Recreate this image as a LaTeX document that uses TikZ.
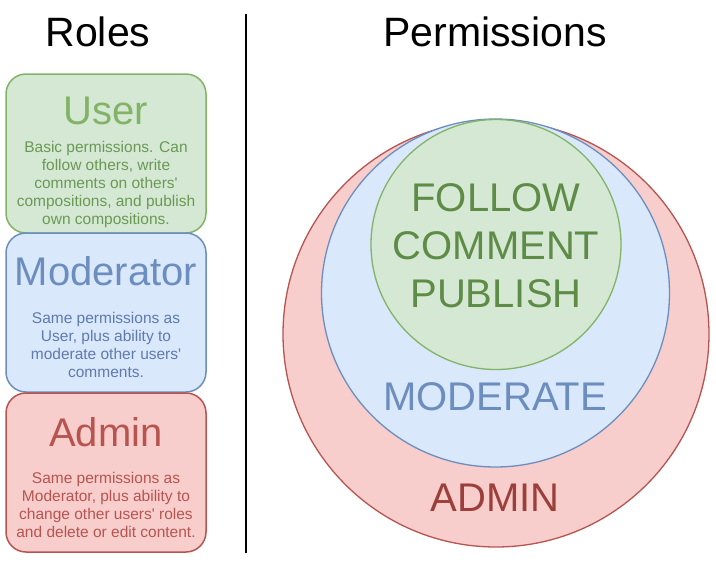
\documentclass[tikz,border=0pt]{standalone}
\usepackage{fontspec}
\setmainfont{Liberation Sans}[Ligatures=TeXOff]
\definecolor{gfill}{HTML}{D5E8D4}
\definecolor{gline}{HTML}{82B366}
\definecolor{bfill}{HTML}{DAE8FC}
\definecolor{bline}{HTML}{6C8EBF}
\definecolor{rfill}{HTML}{F8CECC}
\definecolor{rline}{HTML}{B85450}
\definecolor{gtext}{HTML}{5E8C47}
\definecolor{gbody}{HTML}{6A9955}
\definecolor{bbody}{HTML}{5E7BAE}
\definecolor{rtext}{HTML}{9C3F3B}
\definecolor{rbody}{HTML}{B85450}
\begin{document}
\begin{tikzpicture}[x=1pt,y=-1pt,
  rolebox/.style={draw, line width=1.5pt, rounded corners=20pt, minimum width=200pt, minimum height=159pt, inner sep=0pt},
  bigtext/.style={font=\fontsize{40}{48}\selectfont, align=center, inner sep=0pt},
  bodytext/.style={font=\fontsize{15.5}{18}\selectfont, align=center, inner sep=0pt},
  titletext/.style={font=\fontsize{41}{48}\selectfont, inner sep=0pt},
  permcircle/.style={circle, draw, line width=1.3pt, inner sep=0pt}]
\useasboundingbox (0,0) rectangle (716,562);
% titles
\node[titletext] (roles) at (98,32) {Roles};
\node[titletext] (perms) at (495,32) {Permissions};
% divider
\coordinate (dtop) at (245.5,14);
\coordinate (dbot) at (245.5,553);
\draw[line width=2pt] (dtop) -- (dbot);
% role boxes
\node[rolebox, fill=gfill, draw=gline] (user) at (106,153.5) {};
\node[rolebox, fill=bfill, draw=bline] (mod) at (106,312.5) {};
\node[rolebox, fill=rfill, draw=rline] (adm) at (106,472.5) {};
\node[bigtext, text=gline] (usert) at (106,111) {User};
\node[bodytext, text=gbody] (userb) at (106,184) {Basic permissions. Can\\follow others, write\\comments on others'\\compositions, and publish\\own compositions.};
\node[bigtext, text=bline] (modt) at (106,271) {Moderator};
\node[bodytext, text=bbody] (modb) at (106,345) {Same permissions as\\User, plus ability to\\moderate other users'\\comments.};
\node[bigtext, text=rline] (admt) at (106,432) {Admin};
\node[bodytext, text=rbody] (admb) at (106,505) {Same permissions as\\Moderator, plus ability to\\change other users' roles\\and delete or edit content.};
% circles
\node[permcircle, fill=rfill, draw=rline, minimum size=426pt] (cadm) at (496,334) {};
\node[permcircle, fill=bfill, draw=bline, minimum size=348pt] (cmod) at (495.5,293) {};
\node[permcircle, fill=gfill, draw=gline, minimum size=250pt] (cuser) at (496,244.5) {};
\node[bigtext, text=gtext] (perm1) at (496,246) {FOLLOW\\COMMENT\\PUBLISH};
\node[bigtext, text=bline] (perm2) at (495,397) {MODERATE};
\node[bigtext, text=rtext] (perm3) at (495,498) {ADMIN};
\end{tikzpicture}
\end{document}
